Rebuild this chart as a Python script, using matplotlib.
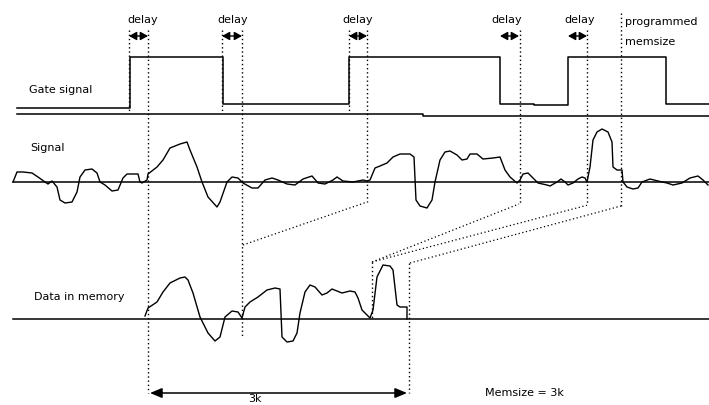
"""Gate signal / signal / data-in-memory timing diagram (pixel-space sketch)."""
import matplotlib
matplotlib.use("Agg")
import matplotlib.pyplot as plt

# --- traces, in image pixel coordinates (x right, y down) ---
gate_x = [17, 130, 130, 223, 223, 349, 349, 500, 500, 534, 534, 568, 568, 666, 666, 709]
gate_y = [108, 108, 57, 57, 104, 104, 57, 57, 104, 104, 105, 105, 57, 57, 104, 104]

signal_x = [13, 17, 23, 32, 38, 45, 48, 52, 57, 60, 65, 72, 77, 80, 85, 92, 97, 100,
            105, 112, 118, 123, 127, 138, 140, 142, 147, 148, 157, 163, 170, 180, 187,
            190, 197, 202, 208, 217, 220, 227, 232, 238, 243, 252, 258, 265, 272, 278,
            287, 295, 303, 312, 318, 325, 333, 337, 343, 353, 358, 363, 367, 370, 375,
            380, 387, 393, 400, 410, 414, 416, 420, 427, 432, 435, 440, 445, 450, 457,
            462, 467, 470, 477, 483, 493, 500, 505, 510, 517, 520, 523, 528, 533, 538,
            547, 550, 557, 561, 565, 568, 573, 578, 582, 585, 587, 590, 593, 597, 602,
            608, 612, 613, 617, 622, 623, 627, 633, 638, 642, 650, 658, 667, 673, 682,
            690, 698, 703, 708]
signal_y = [182, 172, 172, 173, 177, 182, 184, 181, 187, 200, 203, 202, 192, 177, 170,
            169, 173, 182, 185, 191, 190, 178, 174, 174, 182, 183, 180, 174, 167, 160,
            148, 144, 142, 150, 167, 182, 197, 207, 202, 182, 177, 178, 183, 188, 188,
            180, 178, 180, 184, 185, 179, 176, 183, 184, 180, 177, 181, 182, 181, 180,
            181, 180, 168, 166, 163, 157, 154, 154, 157, 200, 206, 208, 200, 182, 160,
            152, 151, 155, 160, 159, 154, 154, 159, 158, 157, 170, 177, 183, 180, 174,
            173, 178, 183, 185, 186, 182, 179, 182, 185, 183, 179, 177, 178, 182, 167,
            140, 132, 129, 132, 142, 167, 170, 170, 182, 187, 189, 188, 182, 179, 181,
            183, 185, 183, 178, 176, 180, 185]

memory_x = [145, 148, 157, 163, 170, 180, 185, 188, 193, 200, 208, 215, 220, 225, 232,
            238, 242, 245, 250, 258, 267, 275, 280, 282, 287, 293, 297, 300, 305, 310,
            315, 322, 327, 332, 337, 342, 350, 355, 358, 362, 367, 370, 373, 377, 383,
            390, 393, 397, 400, 407, 407]
memory_y = [316, 308, 302, 292, 283, 278, 277, 280, 293, 317, 333, 341, 337, 317, 311,
            312, 318, 307, 302, 297, 290, 288, 289, 337, 342, 341, 333, 313, 292, 285,
            287, 295, 293, 289, 291, 293, 291, 292, 298, 310, 315, 318, 310, 277, 265,
            266, 270, 305, 307, 307, 319]

GATE_BASE, SIGNAL_BASE, MEMORY_BASE = 114, 182, 319

# dotted guide lines: (x, y_top, y_bottom)
guides = [(129, 30, 113), (148, 30, 393), (222, 30, 113), (242, 30, 338),
          (349, 30, 113), (367, 30, 202), (520, 30, 204), (587, 30, 205),
          (621, 13, 206), (372, 262, 318), (409, 263, 393)]
# dotted mapping lines from signal to memory: (x0, y0, x1, y1)
links = [(243, 245, 367, 202), (372, 262, 519, 204),
         (372, 262, 588, 205), (410, 263, 621, 206)]
# delay arrows: (x_left, x_right), label centres
delays = [(129, 148), (222, 242), (349, 367), (500, 519), (568, 587)]
delay_lbl_x = [143, 233, 358, 507, 580]

FONT = "DejaVu Sans"
FS = 8
DOT = (0, (1, 2))

fig = plt.figure(figsize=(7.09, 4.05), dpi=100)
ax = fig.add_axes([0, 0, 1, 1])
ax.set_xlim(0, 709)
ax.set_ylim(405, 0)
ax.axis("off")

# baselines
ax.plot([17, 423, 423, 709], [GATE_BASE, GATE_BASE, GATE_BASE + 2, GATE_BASE + 2],
        color="black", lw=1.1)
ax.plot([13, 709], [SIGNAL_BASE, SIGNAL_BASE], color="black", lw=1.1)
ax.plot([13, 709], [MEMORY_BASE, MEMORY_BASE], color="black", lw=1.1)

# traces
ax.plot(gate_x, gate_y, color="black", lw=1.1)
ax.plot(signal_x, signal_y, color="black", lw=1.0)
ax.plot(memory_x, memory_y, color="black", lw=1.0)

for x, y0, y1 in guides:
    ax.plot([x, x], [y0, y1], color="black", lw=1.0, linestyle=DOT)
for x0, y0, x1, y1 in links:
    ax.plot([x0, x1], [y0, y1], color="black", lw=0.9, linestyle=DOT)

for (xl, xr), xc in zip(delays, delay_lbl_x):
    ax.annotate("", xy=(xr, 36), xytext=(xl, 36),
                arrowprops=dict(arrowstyle="<|-|>,head_length=0.45,head_width=0.25",
                                color="black", lw=1.0, shrinkA=0, shrinkB=0,
                                mutation_scale=10))
    ax.text(xc, 20, "delay", ha="center", va="center", fontsize=FS, family=FONT)

ax.annotate("", xy=(407, 393), xytext=(150, 393),
            arrowprops=dict(arrowstyle="<|-|>,head_length=0.6,head_width=0.25",
                            color="black", lw=1.1, shrinkA=0, shrinkB=0,
                            mutation_scale=12))

ax.text(625, 22, "programmed", ha="left", va="center", fontsize=FS, family=FONT)
ax.text(625, 42, "memsize", ha="left", va="center", fontsize=FS, family=FONT)
ax.text(29, 90, "Gate signal", ha="left", va="center", fontsize=FS, family=FONT)
ax.text(30, 148, "Signal", ha="left", va="center", fontsize=FS, family=FONT)
ax.text(34, 297, "Data in memory", ha="left", va="center", fontsize=FS, family=FONT)
ax.text(485, 393, "Memsize = 3k", ha="left", va="center", fontsize=FS, family=FONT)
ax.text(255, 404, "3k", ha="center", va="bottom", fontsize=FS, family=FONT)

fig.savefig("out.png", dpi=100)
